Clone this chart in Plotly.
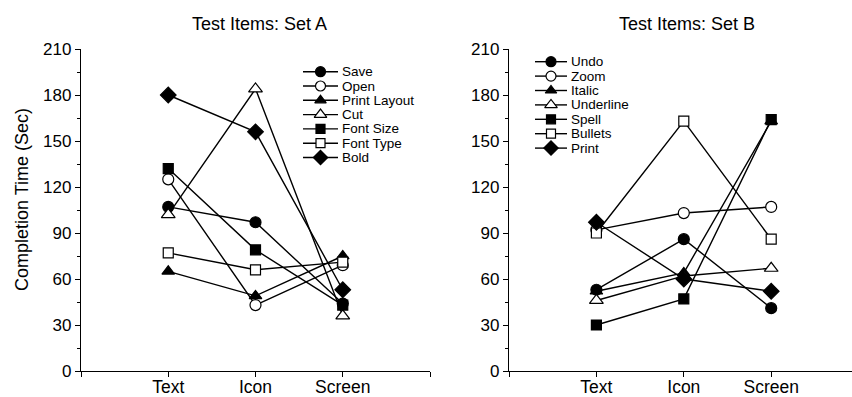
import plotly.graph_objects as go

# ---------------- data ----------------
categories = ["Text", "Icon", "Screen"]

set_a_names = ["Save", "Open", "Print Layout", "Cut", "Font Size", "Font Type", "Bold"]
save = [107, 97, 44]
open_ = [125, 43, 69]
print_layout = [65, 49, 75]
cut = [102, 184, 36]
font_size = [132, 79, 43]
font_type = [77, 66, 71]
bold = [180, 156, 53]
set_a_values = [save, open_, print_layout, cut, font_size, font_type, bold]

set_b_names = ["Undo", "Zoom", "Italic", "Underline", "Spell", "Bullets", "Print"]
undo = [53, 86, 41]
zoom = [92, 103, 107]
italic = [52, 64, 163]
underline = [46, 62, 67]
spell = [30, 47, 164]
bullets = [90, 163, 86]
print_ = [97, 60, 52]
set_b_values = [undo, zoom, italic, underline, spell, bullets, print_]

y_ticks = [0, 30, 60, 90, 120, 150, 180, 210]

# ---------------- styles ----------------
W, H = 852, 397
FONT = "Liberation Sans, Arial, Helvetica, sans-serif"
marker_styles = [
    dict(symbol="circle", color="black", size=11),
    dict(symbol="circle", color="white", size=11),
    dict(symbol="triangle-up", color="black", size=11),
    dict(symbol="triangle-up", color="white", size=12),
    dict(symbol="square", color="black", size=10),
    dict(symbol="square", color="white", size=10),
    dict(symbol="diamond", color="black", size=12),
]

fig = go.Figure()
x_idx = list(range(len(categories)))


def add_series(names, values, xa, ya):
    for name, vals, ms in zip(names, values, marker_styles):
        fig.add_trace(go.Scatter(
            x=x_idx, y=vals, mode="lines+markers", name=name,
            xaxis=xa, yaxis=ya, showlegend=False, cliponaxis=False,
            line=dict(color="black", width=1.4),
            marker=dict(symbol=ms["symbol"], size=ms["size"], color=ms["color"],
                        line=dict(color="black", width=1.2)),
        ))


add_series(set_a_names, set_a_values, "x", "y")
add_series(set_b_names, set_b_values, "x2", "y2")


# ---------------- custom legends (pixel overlay axis) ----------------
def add_legend(names, x0, x1, tx, y0, dy):
    for i, (name, ms) in enumerate(zip(names, marker_styles)):
        yy = y0 + i * dy
        fig.add_trace(go.Scatter(
            x=[x0, x1], y=[yy, yy], mode="lines", xaxis="x3", yaxis="y3",
            showlegend=False, hoverinfo="skip",
            line=dict(color="black", width=1.4)))
        fig.add_trace(go.Scatter(
            x=[(x0 + x1) / 2], y=[yy], mode="markers", xaxis="x3", yaxis="y3",
            showlegend=False, hoverinfo="skip",
            marker=dict(symbol=ms["symbol"], size=ms["size"] - 1, color=ms["color"],
                        line=dict(color="black", width=1.2))))
        fig.add_annotation(x=tx, y=yy, xref="x3", yref="y3", text=name,
                           showarrow=False, xanchor="left", yanchor="middle",
                           borderpad=0,
                           font=dict(family=FONT, size=13.5, color="black"))


add_legend(set_a_names, 303, 338, 341, 71.7, 14.3)
add_legend(set_b_names, 535, 567, 570, 61.7, 14.4)

# ---------------- axes ----------------
px_per_cat = 87.4
left_dom = [81 / W, 430 / W]
right_dom = [509 / W, 1.0]
y_dom = [(H - 371) / H, (H - 49) / H]

xt_vals = [-1] + x_idx + [len(categories)]
xt_text = [""] + categories + [""]


def xaxis_cfg(dom, rng):
    return dict(domain=dom, range=rng, tickvals=xt_vals, ticktext=xt_text,
                showline=True, linecolor="black", linewidth=1.3,
                ticks="outside", ticklen=5, tickwidth=1.3, tickcolor="black",
                ticklabelstandoff=-5,
                showgrid=False, zeroline=False, automargin=False,
                tickfont=dict(family=FONT, size=17.5, color="black"))


def yaxis_cfg(anchor):
    return dict(domain=y_dom, range=[0, 210], tickvals=y_ticks, anchor=anchor,
                showline=True, linecolor="black", linewidth=1.3,
                ticks="outside", ticklen=5, tickwidth=1.3, tickcolor="black",
                minor=dict(dtick=15, ticks="outside", ticklen=3, tickwidth=1.1,
                           tickcolor="black", showgrid=False),
                showgrid=False, zeroline=False, automargin=False,
                tickfont=dict(family=FONT, size=17, color="black"))


right_span = (W - 509) / px_per_cat
fig.update_layout(
    width=W, height=H,
    margin=dict(l=0, r=0, t=0, b=0),
    paper_bgcolor="white", plot_bgcolor="rgba(0,0,0,0)",
    showlegend=False,
    xaxis=xaxis_cfg(left_dom, [-1, 3]) | dict(anchor="y"),
    yaxis=yaxis_cfg("x"),
    xaxis2=xaxis_cfg(right_dom, [-1, -1 + right_span]) | dict(anchor="y2"),
    yaxis2=yaxis_cfg("x2"),
    xaxis3=dict(domain=[0, 1], range=[0, W], visible=False, anchor="y3",
                fixedrange=True),
    yaxis3=dict(domain=[0, 1], range=[H, 0], visible=False, anchor="x3",
                fixedrange=True),
)

fig.add_annotation(x=259 / W, y=1 - 24 / H, xref="paper", yref="paper",
                   text="Test Items: Set A", showarrow=False,
                   xanchor="center", yanchor="middle",
                   font=dict(family=FONT, size=18, color="black"))
fig.add_annotation(x=687 / W, y=1 - 24 / H, xref="paper", yref="paper",
                   text="Test Items: Set B", showarrow=False,
                   xanchor="center", yanchor="middle",
                   font=dict(family=FONT, size=18, color="black"))
fig.add_annotation(x=22 / W, y=1 - 200 / H, xref="paper", yref="paper",
                   text="Completion Time (Sec)", showarrow=False, textangle=-90,
                   xanchor="center", yanchor="middle",
                   font=dict(family=FONT, size=18, color="black"))

fig.write_html("out.html",
               config=dict(displayModeBar=False),
               post_script="document.body.style.margin='0';"
                           "document.body.style.overflow='hidden';")
